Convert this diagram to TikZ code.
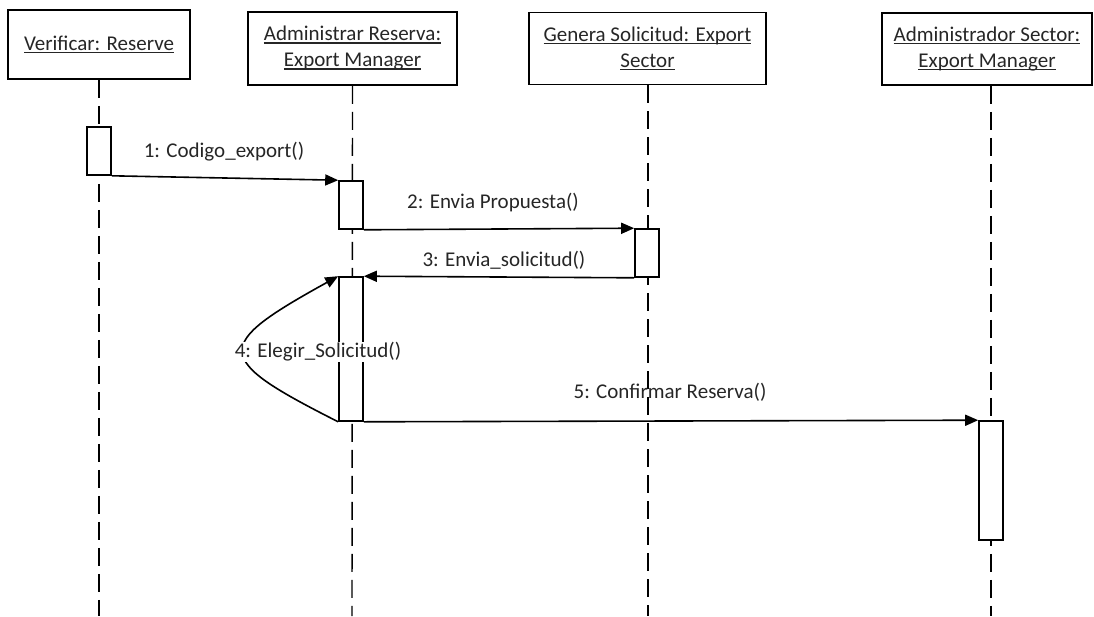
\documentclass[tikz,border=0pt]{standalone}
\usepackage{fontspec}
\setmainfont{Carlito}
\usetikzlibrary{arrows.meta}
% underline set close beneath the baseline
\newcommand{\objname}[1]{\setbox0\hbox{#1}\rlap{\rule[-2.6pt]{\wd0}{1.1pt}}\box0}
\begin{document}
\begin{tikzpicture}[x=1pt, y=-1pt,
  every node/.style={font=\fontsize{21}{26}\selectfont, text=black!85},
  objbox/.style={draw=black, line width=1.8pt, fill=white, align=center, inner sep=0pt},
  lifeline/.style={line width=1.4pt, dash pattern=on 18pt off 8pt},
  act/.style={draw=black, line width=1.6pt, fill=white, minimum width=24pt, inner sep=0pt},
  msg/.style={line width=1.6pt, -{Triangle[length=13pt, width=11pt]}},
  lbl/.style={inner sep=1pt}
]
\useasboundingbox (0,0) rectangle (1094,616);

% object headers
\node[objbox, minimum width=182pt, minimum height=69pt] (o1) at (99,44.5) {\objname{Verificar: Reserve}};
\node[objbox, minimum width=209pt, minimum height=73pt] (o2) at (352.5,48.5) {\objname{Administrar Reserva:}\\\objname{Export Manager}};
\node[objbox, minimum width=237pt, minimum height=72pt] (o3) at (647.5,48.5) {\objname{Genera Solicitud: Export}\\\objname{Sector}};
\node[objbox, minimum width=210pt, minimum height=72pt] (o4) at (987,49) {\objname{Administrador Sector:}\\\objname{Export Manager}};

% lifeline ends
\coordinate (e1) at (99,616);
\coordinate (e2) at (352,616);
\coordinate (e3) at (648,616);
\coordinate (e4) at (991,616);

\draw[lifeline] (o1.south) -- (e1);
\draw[lifeline] (o2.south) -- (e2);
\draw[lifeline] (o3.south -| e3) -- (e3);
\draw[lifeline] (o4.south -| e4) -- (e4);

% activation bars
\node[act, minimum height=48pt] (a1) at (99,151) {};
\node[act, minimum height=48pt] (a2) at (351,205) {};
\node[act, minimum height=48pt] (a3) at (647,253) {};
\node[act, minimum height=144pt] (a4) at (351,349) {};
\node[act, minimum height=119pt] (a5) at (991,480.5) {};

% messages
\draw[msg] (a1.south east) -- (a2.north west);
\draw[msg] (a2.south east) -- (a3.north west);
\draw[msg] (a3.south west) -- (a4.north east);
\draw[msg] (a4.south west) .. controls (212,358) and (212,346) .. (a4.north west);
\draw[msg] (a4.south east) -- (a5.north west);

% message labels
\node[lbl] (m1) at (224,152) {1: Codigo\_export()};
\node[lbl] (m2) at (493,203) {2: Envia Propuesta()};
\node[lbl] (m3) at (504,260) {3: Envia\_solicitud()};
\node[lbl, fill=white] (m4) at (318,352) {4: Elegir\_Solicitud()};
\node[lbl] (m5) at (670,392) {5: Confirmar Reserva()};
\end{tikzpicture}
\end{document}
